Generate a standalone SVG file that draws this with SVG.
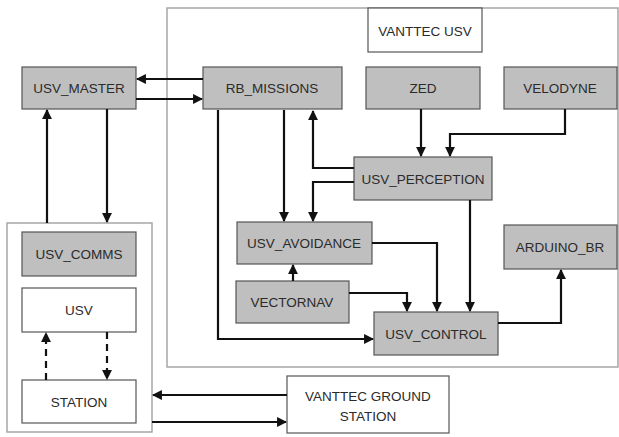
<svg xmlns="http://www.w3.org/2000/svg" width="619" height="437" viewBox="0 0 619 437">
<style>
.n{fill:#bfbfbf;stroke:#555;stroke-width:1.2}
.w{fill:#fff;stroke:#555;stroke-width:1.2}
.c{fill:none;stroke:#a6a6a6;stroke-width:1.5}
.t{font-family:"Liberation Sans",Arial,sans-serif;font-size:13.5px;fill:#2b2b2b;text-anchor:middle;dominant-baseline:central}
.e{fill:none;stroke:#111;stroke-width:2.2;marker-end:url(#a)}
.d{stroke-dasharray:7 5}
</style>
<defs>
<marker id="a" viewBox="0 0 10 10" refX="9" refY="5" markerWidth="4.5" markerHeight="4.5" markerUnits="strokeWidth" orient="auto">
<path d="M0,0L10,5L0,10z" fill="#111"/>
</marker>
</defs>
<rect width="619" height="437" fill="#fff"/>
<g id="vanttec_usv_container"><rect class="c" x="167" y="8" width="451" height="359"/></g>
<g id="comms_container"><rect class="c" x="7" y="223" width="145" height="209"/></g>
<g id="vanttec_usv_label"><rect class="w" x="368" y="8" width="114" height="44"/><text class="t" x="425" y="31">VANTTEC USV</text></g>
<g id="usv_master"><rect class="n" x="22" y="67" width="114" height="42"/><text class="t" x="79" y="88">USV_MASTER</text></g>
<g id="rb_missions"><rect class="n" x="203" y="67" width="139" height="42"/><text class="t" x="272" y="88">RB_MISSIONS</text></g>
<g id="zed"><rect class="n" x="366" y="67" width="114" height="42"/><text class="t" x="423" y="88">ZED</text></g>
<g id="velodyne"><rect class="n" x="504" y="67" width="113" height="42"/><text class="t" x="560" y="88">VELODYNE</text></g>
<g id="usv_perception"><rect class="n" x="354" y="157" width="138" height="43"/><text class="t" x="423" y="179">USV_PERCEPTION</text></g>
<g id="usv_avoidance"><rect class="n" x="237" y="222" width="135" height="42"/><text class="t" x="304" y="243">USV_AVOIDANCE</text></g>
<g id="vectornav"><rect class="n" x="236" y="281" width="113" height="42"/><text class="t" x="292" y="302">VECTORNAV</text></g>
<g id="usv_control"><rect class="n" x="374" y="312" width="124" height="43"/><text class="t" x="436" y="334">USV_CONTROL</text></g>
<g id="arduino_br"><rect class="n" x="504" y="225" width="113" height="44"/><text class="t" x="560" y="247">ARDUINO_BR</text></g>
<g id="usv_comms"><rect class="n" x="22" y="232" width="114" height="44"/><text class="t" x="79" y="254">USV_COMMS</text></g>
<g id="usv"><rect class="w" x="22" y="288" width="114" height="44"/><text class="t" x="79" y="310">USV</text></g>
<g id="station"><rect class="w" x="22" y="380" width="114" height="43"/><text class="t" x="79" y="402">STATION</text></g>
<g id="ground_station"><rect class="w" x="287" y="376" width="162" height="57"/><text class="t" x="368" y="396">VANTTEC GROUND</text><text class="t" x="368" y="416">STATION</text></g>
<g id="connectors">
<path class="e" d="M203,79H137"/>
<path class="e" d="M136,99H202"/>
<path class="e" d="M47,223V110"/>
<path class="e" d="M107,109V222"/>
<path class="e" d="M218,110V339H373"/>
<path class="e" d="M284,110V221"/>
<path class="e" d="M354,168H313V111"/>
<path class="e" d="M354,182H313V221"/>
<path class="e" d="M421,109V156"/>
<path class="e" d="M565,109V134H450V156"/>
<path class="e" d="M293,281V265"/>
<path class="e" d="M372,243H437V311"/>
<path class="e" d="M349,293H407V311"/>
<path class="e" d="M470,200V311"/>
<path class="e" d="M498,323H561V270"/>
<path class="e d" d="M46,380V333"/>
<path class="e d" d="M107,332V379"/>
<path class="e" d="M287,395H153"/>
<path class="e" d="M152,422H286"/>
</g>
</svg>
